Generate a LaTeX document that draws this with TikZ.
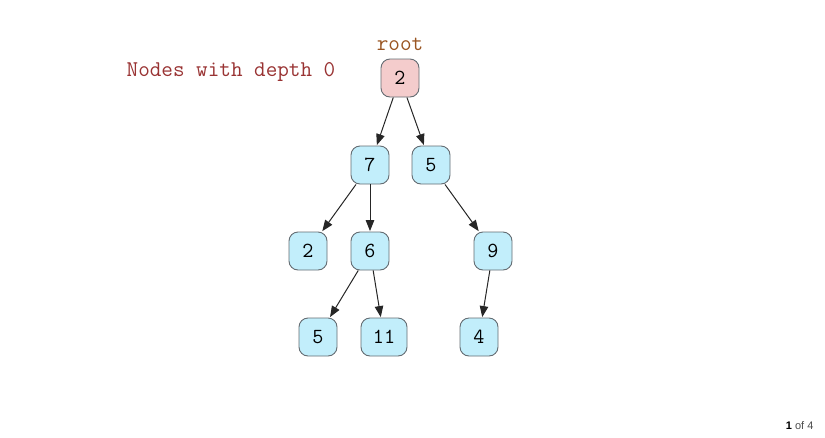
\documentclass[tikz,border=0pt]{standalone}
\usepackage{fontspec}
\setsansfont{Liberation Sans}
\usepackage{xcolor}
\usetikzlibrary{arrows.meta}

\definecolor{nodefill}{RGB}{194,238,251}
\definecolor{rootfill}{RGB}{244,204,204}
\definecolor{nodeedge}{RGB}{100,108,114}
\definecolor{labelred}{RGB}{153,51,51}
\definecolor{rootbrown}{RGB}{153,85,34}

\tikzset{
  treenode/.style={draw=nodeedge, line width=0.9pt, fill=nodefill, rounded corners=9pt,
    minimum width=38pt, minimum height=38pt, inner sep=0pt,
    font=\ttfamily\fontsize{21.5}{24}\selectfont},
  rootnode/.style={treenode, fill=rootfill},
  edge/.style={-{Triangle[length=11pt,width=8.5pt]}, line width=1pt, draw=black!85, shorten >=0.5pt}
}

\begin{document}
\begin{tikzpicture}[x=1pt,y=-1pt]
        \useasboundingbox (0,0) rectangle (825,437);

        % Caption and root marker
        \node[text=labelred, font=\ttfamily\fontsize{22.5}{25}\selectfont] (caption) at (231,72) {Nodes with depth 0};
        \node[text=rootbrown, font=\ttfamily\fontsize{22.5}{25}\selectfont] (rootlabel) at (400,44) {root};

        % Depth 0
        \node[rootnode] (root) at (400,78) {2};

        % Depth 1
        \node[treenode] (n7) at (370,165) {7};
        \node[treenode] (n5) at (431,165) {5};

        % Depth 2
        \node[treenode] (n2) at (308,251) {2};
        \node[treenode] (n6) at (370,251) {6};
        \node[treenode] (n9) at (493,251) {9};

        % Depth 3
        \node[treenode] (m5) at (318,337) {5};
        \node[treenode, minimum width=46pt] (m11) at (384,337) {11};
        \node[treenode] (m4) at (479,337) {4};

        % Edges
        \draw[edge] (root) -- (n7);
        \draw[edge] (root) -- (n5);
        \draw[edge] (n7) -- (n2);
        \draw[edge] (n7) -- (n6);
        \draw[edge] (n5) -- (n9);
        \draw[edge] (n6) -- (m5);
        \draw[edge] (n6) -- (m11);
        \draw[edge] (n9) -- (m4);

        % Page counter
        \node[font=\sffamily\fontsize{11}{13}\selectfont, anchor=east] (pager) at (817,426) {\textbf{1} \textcolor{black!70}{of 4}};
    \end{tikzpicture}
\end{document}
